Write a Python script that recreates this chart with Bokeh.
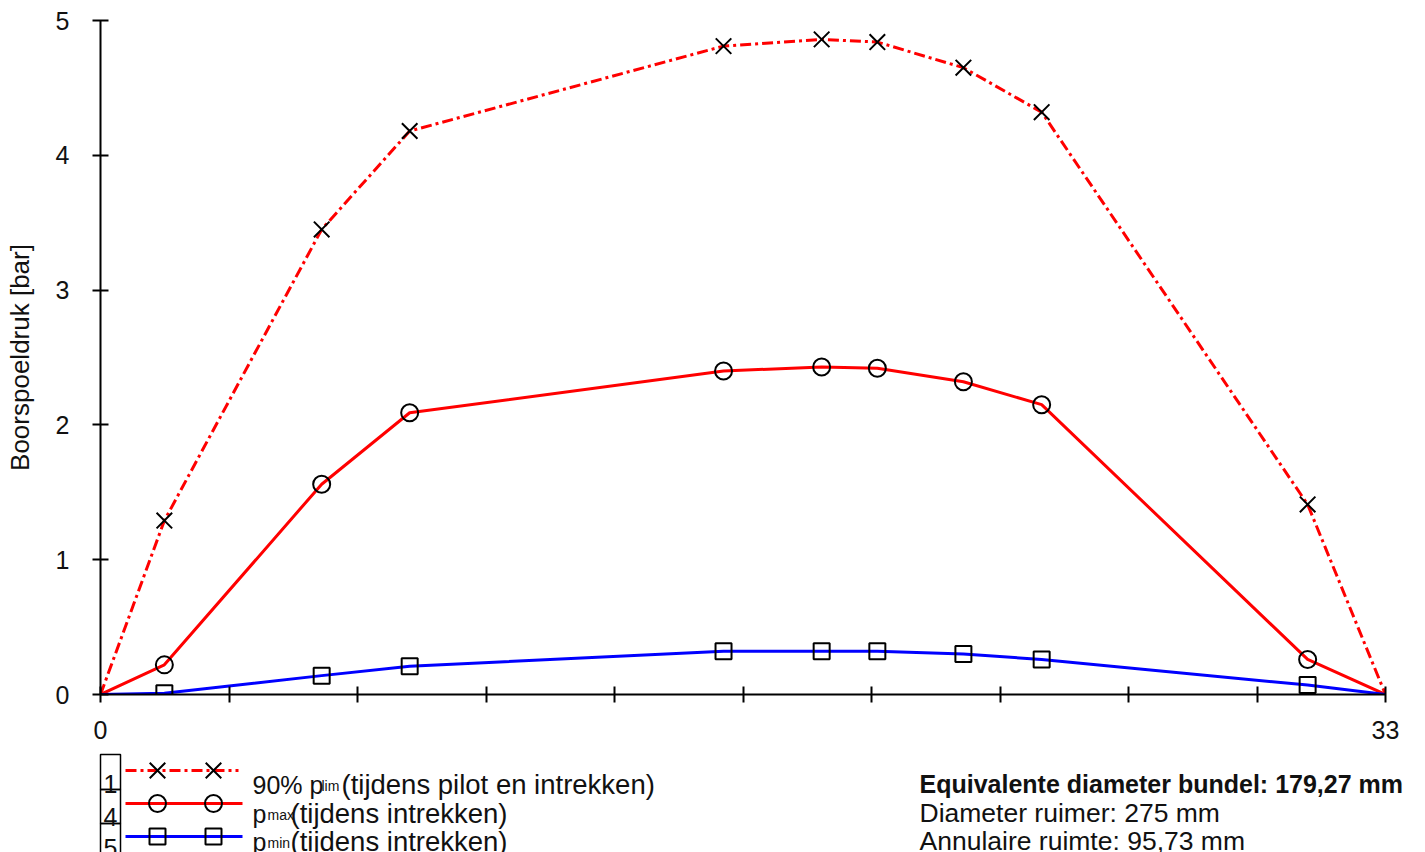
from bokeh.plotting import figure
from bokeh.models import Range1d, FixedTicker, CustomJSTickFormatter, Label
from bokeh.layouts import column
from bokeh.core.properties import value
from bokeh.embed import file_html
from bokeh.resources import INLINE

# ---- data ----
afstand = [0.0, 1.64, 5.68, 7.94, 16.0, 18.52, 19.95, 22.16, 24.17, 31.0, 33.0]
p_lim90 = [0.0, 1.29, 3.45, 4.18, 4.81, 4.86, 4.84, 4.65, 4.32, 1.41, 0.0]
p_max = [0.0, 0.22, 1.56, 2.09, 2.40, 2.43, 2.42, 2.32, 2.15, 0.26, 0.0]
p_min = [0.0, 0.01, 0.14, 0.21, 0.32, 0.32, 0.32, 0.30, 0.26, 0.07, 0.0]
x_max = 33.0
y_ticks = [0, 1, 2, 3, 4, 5]
legend_nrs = ["1", "4", "5"]
legend_main = ["90% p", "p", "p"]
legend_sub = ["lim", "max", "min"]
legend_rest = ["(tijdens pilot en intrekken)", "(tijdens intrekken)", "(tijdens intrekken)"]
info_lines = ["Equivalente diameter bundel: 179,27 mm", "Diameter ruimer: 275 mm", "Annulaire ruimte: 95,73 mm"]

FONT = "Liberation Sans"
RED = "#ff0000"
BLUE = "#0000ff"
TXT = "#111111"

p = figure(width=1425, height=750, x_range=Range1d(0, x_max), y_range=Range1d(0, 5),
           output_backend="svg", toolbar_location=None,
           min_border_left=100, min_border_right=40, min_border_top=20, min_border_bottom=56)
p.frame_align = False
p.outline_line_color = None
p.xgrid.visible = False
p.ygrid.visible = False

for ax in (p.xaxis[0], p.yaxis[0]):
    ax.axis_line_width = 2
    ax.major_tick_line_width = 2
    ax.major_tick_in = 8
    ax.major_tick_out = 8
    ax.minor_tick_line_color = None
    ax.major_label_text_font = FONT
    ax.major_label_text_font_size = "25px"
    ax.major_label_text_color = TXT
    ax.axis_label_text_font = FONT
    ax.axis_label_text_font_size = "26px"
    ax.axis_label_text_font_style = "normal"
    ax.axis_label_text_color = TXT

p.yaxis.ticker = FixedTicker(ticks=y_ticks)
p.yaxis.major_label_standoff = 23
p.yaxis.axis_label = "Boorspoeldruk [bar]"
p.yaxis.axis_label_standoff = 18

p.xaxis.ticker = FixedTicker(ticks=[x_max * i / 10 for i in range(11)])
p.xaxis.formatter = CustomJSTickFormatter(code="return (tick < 0.01 || tick > 32.99) ? tick.toFixed(0) : '';")
p.xaxis.major_label_standoff = 18

p.add_layout(Label(x=x_max / 2, y=0, x_offset=10, y_offset=-36, text="Afstand t.o.v. intredepunt [m]",
                   text_font=FONT, text_font_size="24px", text_align="center",
                   text_baseline="middle", text_color=TXT))

p.line(afstand, p_lim90, line_color=RED, line_width=3, line_dash="11 4 3 4", line_join="round")
p.line(afstand, p_max, line_color=RED, line_width=3, line_join="round")
p.line(afstand, p_min, line_color=BLUE, line_width=3, line_join="round")

p.scatter(afstand[1:-1], p_lim90[1:-1], marker="x", size=22, line_color="black", line_width=2)
p.scatter(afstand[1:-1], p_max[1:-1], marker="circle", size=17, line_color="black", line_width=2,
          fill_color=None)
p.scatter(afstand[1:-1], p_min[1:-1], marker="square", size=16, line_color="black", line_width=2,
          fill_color=None)

# ---- legend / info panel ----
lg = figure(width=1425, height=102, x_range=Range1d(0, 1425), y_range=Range1d(102, 0),
            output_backend="svg", toolbar_location=None, x_axis_type=None, y_axis_type=None,
            min_border=0)
lg.frame_align = False
lg.outline_line_color = None
lg.xgrid.visible = False
lg.ygrid.visible = False

text_base = [34, 63, 91]
nr_base = [33, 66, 97]
line_y = [20, 53, 86]
box_top = [4, 39, 73]
box_bot = [39, 73, 130]
lg.quad(left=100, right=120, top=box_top, bottom=box_bot, fill_color=None, line_color="black",
        line_width=1.5)
lg.text(x=110, y=nr_base, text=legend_nrs, text_font=value(FONT), text_font_size="25px",
        text_align="center", text_baseline="alphabetic", text_color=TXT)

lg.line([125, 238], [line_y[0]] * 2, line_color=RED, line_width=3, line_dash="11 4 3 4")
lg.line([125, 242], [line_y[1]] * 2, line_color=RED, line_width=3)
lg.line([125, 242], [line_y[2]] * 2, line_color=BLUE, line_width=3)
lg.scatter([157, 213], [line_y[0]] * 2, marker="x", size=22, line_color="black", line_width=2)
lg.scatter([157, 213], [line_y[1]] * 2, marker="circle", size=17, line_color="black", line_width=2,
           fill_color=None)
lg.scatter([157, 213], [line_y[2]] * 2, marker="square", size=16, line_color="black", line_width=2,
           fill_color=None)

lg.text(x=252, y=text_base, text=legend_main, text_font=value(FONT), text_font_size="25px",
        text_baseline="alphabetic", text_color=TXT)
lg.text(x=[321, 267, 267], y=[b + 1 for b in text_base], text=legend_sub, text_font=value(FONT),
        text_font_size="14px", text_baseline="alphabetic", text_color=TXT)
lg.text(x=[341, 290, 290], y=text_base, text=legend_rest, text_font=value(FONT), text_font_size="27.5px",
        text_baseline="alphabetic", text_color=TXT)

lg.text(x=919, y=[33], text=info_lines[:1], text_font=value(FONT), text_font_size="25px",
        text_font_style="bold", text_baseline="alphabetic", text_color=TXT)
lg.text(x=919, y=[62, 90], text=info_lines[1:], text_font=value(FONT), text_font_size="26.5px",
        text_baseline="alphabetic", text_color=TXT)

layout = column(p, lg, spacing=0)
open("out.html", "w").write(file_html(layout, INLINE))
